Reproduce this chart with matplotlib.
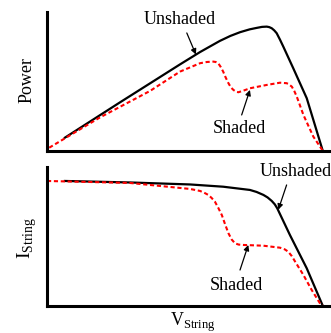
import matplotlib
matplotlib.use("Agg")
import matplotlib.pyplot as plt

plt.rcParams['font.family'] = ['Liberation Serif', 'DejaVu Serif']
plt.rcParams['mathtext.fontset'] = 'custom'
plt.rcParams['mathtext.rm'] = 'Liberation Serif'

# normalised string voltage / power / current
v_pow_unsh = [0.065, 0.265, 0.482, 0.555, 0.627, 0.665, 0.700, 0.735, 0.761,
              0.780, 0.797, 0.806, 0.815, 0.824, 0.833, 0.845, 0.857, 0.893,
              0.942, 1.0]
p_unsh = [0.105, 0.39, 0.695, 0.795, 0.885, 0.925, 0.955, 0.978, 0.990,
          0.998, 1.0, 0.996, 0.987, 0.970, 0.947, 0.895, 0.839, 0.665,
          0.423, 0.0]

v_pow_sh = [0.008, 0.192, 0.374, 0.482, 0.555, 0.580, 0.603, 0.612, 0.621,
            0.630, 0.639, 0.648, 0.658, 0.667, 0.676, 0.685, 0.694, 0.710,
            0.736, 0.797, 0.845, 0.869, 0.876, 0.888, 0.897, 0.906, 0.930,
            0.966, 1.0]
p_sh = [0.024, 0.268, 0.482, 0.637, 0.705, 0.715, 0.718, 0.715, 0.705,
        0.675, 0.637, 0.590, 0.544, 0.510, 0.490, 0.476, 0.471, 0.482,
        0.503, 0.530, 0.548, 0.544, 0.537, 0.516, 0.480, 0.435, 0.288,
        0.113, 0.0]

v_cur_unsh = [0.065, 0.301, 0.519, 0.639, 0.736, 0.760, 0.785, 0.800, 0.815,
              0.826, 0.835, 0.855, 0.881, 0.942, 1.0]
i_unsh = [1.0, 0.988, 0.972, 0.954, 0.928, 0.912, 0.888, 0.868, 0.840,
          0.813, 0.781, 0.688, 0.567, 0.300, 0.0]

v_cur_sh = [0.0, 0.301, 0.519, 0.555, 0.570, 0.585, 0.597, 0.609, 0.621,
            0.634, 0.646, 0.658, 0.670, 0.682, 0.695, 0.712, 0.785, 0.845,
            0.862, 0.875, 0.888, 0.900, 0.930, 0.960, 0.990, 1.0]
i_sh = [1.0, 0.984, 0.936, 0.920, 0.906, 0.888, 0.864, 0.834, 0.785,
        0.727, 0.652, 0.581, 0.530, 0.500, 0.490, 0.487, 0.481, 0.465,
        0.452, 0.433, 0.397, 0.353, 0.246, 0.126, 0.019, 0.0]

fig = plt.figure(figsize=(3.31, 3.33), dpi=100)
ax1 = fig.add_axes([0.142, 0.5475, 0.858, 0.4165])
ax2 = fig.add_axes([0.142, 0.082, 0.858, 0.415])

for ax in (ax1, ax2):
    ax.set_xlim(0, 1.03)
    ax.spines['top'].set_visible(False)
    ax.spines['right'].set_visible(False)
    ax.spines['left'].set_linewidth(2.2)
    ax.spines['bottom'].set_linewidth(2.2)
    ax.set_xticks([])
    ax.set_yticks([])
ax1.set_ylim(0, 1.118)
ax2.set_ylim(0, 1.108)

arrow = dict(arrowstyle='-|>', color='black', lw=0.9, mutation_scale=8,
             shrinkA=0, shrinkB=0)

# power vs voltage
ax1.plot(v_pow_unsh, p_unsh, color='black', lw=1.6)
ax1.plot(v_pow_sh, p_sh, color='red', lw=1.5, dashes=(2, 1.3))
ax1.text(0.482, 1.054, 'Unshaded', fontsize=13, ha='center', va='center')
ax1.annotate('', xy=(0.540, 0.775), xytext=(0.507, 0.949), arrowprops=arrow)
ax1.text(0.698, 0.179, 'Shaded', fontsize=13, ha='center', va='center')
ax1.annotate('', xy=(0.736, 0.49), xytext=(0.706, 0.288), arrowprops=arrow)

# current vs voltage
ax2.plot(v_cur_unsh, i_unsh, color='black', lw=1.6)
ax2.plot(v_cur_sh, i_sh, color='red', lw=1.5, dashes=(2, 1.3))
ax2.text(0.773, 1.072, 'Unshaded', fontsize=13, ha='left', va='center',
         clip_on=False)
ax2.annotate('', xy=(0.839, 0.77), xytext=(0.869, 0.968), arrowprops=arrow)
ax2.text(0.686, 0.158, 'Shaded', fontsize=13, ha='center', va='center')
ax2.annotate('', xy=(0.730, 0.487), xytext=(0.700, 0.286), arrowprops=arrow)

fig.text(0.0816, 0.76, 'Power', fontsize=13, rotation=90,
         ha='center', va='center')
fig.text(0.0816, 0.285, r'$\mathrm{I}_{\mathrm{String}}$', fontsize=14,
         rotation=90, ha='center', va='center')
fig.text(0.583, 0.068, r'$\mathrm{V}_{\mathrm{String}}$', fontsize=13,
         ha='center', va='top')

fig.savefig('out.png', dpi=100)
